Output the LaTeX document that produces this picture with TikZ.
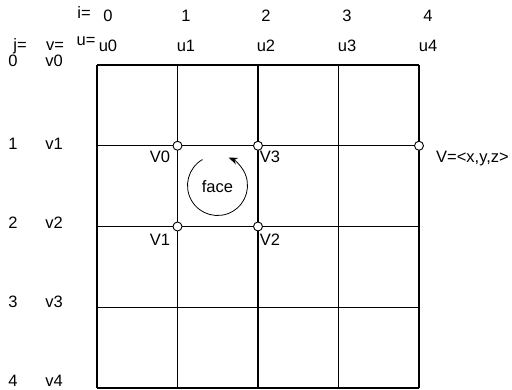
\documentclass[tikz,border=0pt]{standalone}
\usepackage{fontspec}
\setmainfont{Liberation Sans}
\usetikzlibrary{arrows.meta}

\begin{document}
\begin{tikzpicture}[x=1pt, y=-1pt,
  >={Stealth[length=9pt, width=7pt]},
  lab/.style={font=\fontsize{16.5}{19}\selectfont, inner sep=0pt,
    text height=11.5pt, text depth=0pt},
  vert/.style={circle, draw, fill=white, line width=0.9pt,
    minimum size=9pt, inner sep=0pt},
  gridline/.style={line width=1.1pt}]
\useasboundingbox (0,0) rectangle (512,389);
% grid of cells
\foreach \k in {0,...,4} {
  \draw[gridline] (97+80.5*\k,65) -- (97+80.5*\k,388);
  \draw[gridline] (97,65+80.75*\k) -- (419,65+80.75*\k);
}
% headers
\node[lab] (ieq) at (84,13) {i=};
\node[lab] (ueq) at (86,40) {u=};
\node[lab] (jeq) at (20,45) {j=};
\node[lab] (veq) at (55,45) {v=};
\foreach \i/\x in {0/108,1/186,2/266,3/347,4/428} {
  \node[lab] (i\i) at (\x,16) {\i};
  \node[lab] (u\i) at (\x,46) {u\i};
}
\foreach \j/\y in {0/61,1/144,2/223,3/302,4/381} {
  \node[lab] (j\j) at (13,\y) {\j};
  \node[lab] (v\j) at (54,\y) {v\j};
}
% face corners
\node[vert] (p0) at (177.5,145.75) {};
\node[vert] (p1) at (177.5,226.5) {};
\node[vert] (p2) at (258,226.5) {};
\node[vert] (p3) at (258,145.75) {};
\node[vert] (p4) at (419,145.75) {};
\node[lab] (V0) at (160,157) {V0};
\node[lab] (V1) at (160,240) {V1};
\node[lab] (V2) at (270,240) {V2};
\node[lab] (V3) at (270,157) {V3};
\node[lab] (Vxyz) at (472.5,157) {V=<x,y,z>};
% winding of the face
\node[lab] (face) at (217.5,187) {face};
\coordinate (fc) at (217.5,185.5);
\draw[->, line width=0.8pt] (fc) ++(120:30pt)
  arc[start angle=120, end angle=428, radius=30pt];
\end{tikzpicture}
\end{document}
